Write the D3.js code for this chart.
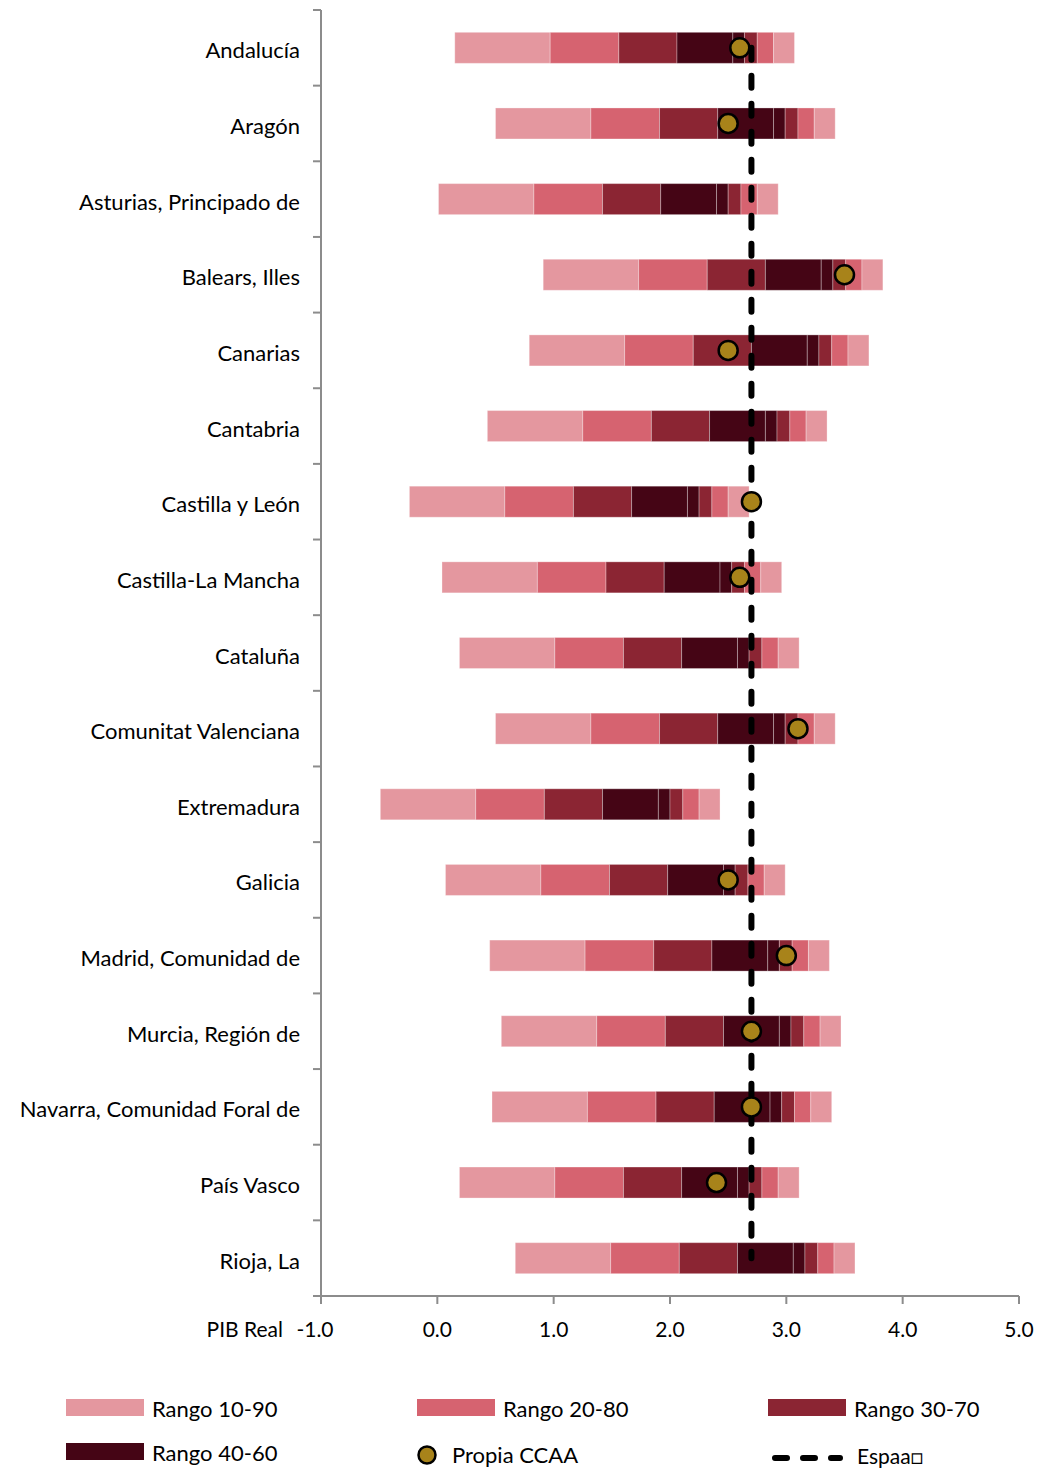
<!DOCTYPE html>
<html>
<head>
<meta charset="utf-8">
<script src="https://cdn.jsdelivr.net/npm/d3@7"></script>
<style>
  body { margin: 0; background: #fff; }
  svg text { font-family: Lato, "Open Sans", sans-serif; fill: #000; }
</style>
</head>
<body>
<svg id="chart" width="1040" height="1469"></svg>
<script>
const regions = ["Andalucía", "Aragón", "Asturias, Principado de", "Balears, Illes", "Canarias",
    "Cantabria", "Castilla y León", "Castilla-La Mancha", "Cataluña", "Comunitat Valenciana",
    "Extremadura", "Galicia", "Madrid, Comunidad de", "Murcia, Región de",
    "Navarra, Comunidad Foral de", "País Vasco", "Rioja, La"];

// percentiles of the PIB real forecast, one value per region
const p10 = [0.15, 0.50, 0.01, 0.91, 0.79, 0.43, -0.24, 0.04, 0.19, 0.50, -0.49, 0.07, 0.45, 0.55, 0.47, 0.19, 0.67];
const p20 = [0.97, 1.32, 0.83, 1.73, 1.61, 1.25, 0.58, 0.86, 1.01, 1.32, 0.33, 0.89, 1.27, 1.37, 1.29, 1.01, 1.49];
const p30 = [1.56, 1.91, 1.42, 2.32, 2.20, 1.84, 1.17, 1.45, 1.60, 1.91, 0.92, 1.48, 1.86, 1.96, 1.88, 1.60, 2.08];
const p40 = [2.06, 2.41, 1.92, 2.82, 2.70, 2.34, 1.67, 1.95, 2.10, 2.41, 1.42, 1.98, 2.36, 2.46, 2.38, 2.10, 2.58];
const p50 = [2.54, 2.89, 2.40, 3.30, 3.18, 2.82, 2.15, 2.43, 2.58, 2.89, 1.90, 2.46, 2.84, 2.94, 2.86, 2.58, 3.06];
const p60 = [2.64, 2.99, 2.50, 3.40, 3.28, 2.92, 2.25, 2.53, 2.68, 2.99, 2.00, 2.56, 2.94, 3.04, 2.96, 2.68, 3.16];
const p70 = [2.75, 3.10, 2.61, 3.51, 3.39, 3.03, 2.36, 2.64, 2.79, 3.10, 2.11, 2.67, 3.05, 3.15, 3.07, 2.79, 3.27];
const p80 = [2.89, 3.24, 2.75, 3.65, 3.53, 3.17, 2.50, 2.78, 2.93, 3.24, 2.25, 2.81, 3.19, 3.29, 3.21, 2.93, 3.41];
const p90 = [3.07, 3.42, 2.93, 3.83, 3.71, 3.35, 2.68, 2.96, 3.11, 3.42, 2.43, 2.99, 3.37, 3.47, 3.39, 3.11, 3.59];

// own forecast of each region (null = not shown)
const propia = [2.6, 2.5, null, 3.5, 2.5, null, 2.7, 2.6, null, 3.1, null, 2.5, 3.0, 2.7, 2.7, 2.4, null];
const espana = 2.7;

const xTicks = [-1, 0, 1, 2, 3, 4, 5];

const colLight = "#e4979f", colMed = "#d66370", colDark = "#8b2533", colDarkest = "#450515";
const gold = "#a8831a";
const axisGrey = "#8c8c8c";

const svg = d3.select("#chart");

const x = d3.scaleLinear().domain([-1, 5]).range([321, 1019]);
const y = d3.scaleBand().domain(regions).range([10, 1296]).paddingInner(0.59).paddingOuter(0.295);

// segments p10->p20 ... p80->p90
const bounds = [p10, p20, p30, p40, p50, p60, p70, p80, p90];
const segColors = [colLight, colMed, colDark, colDarkest, colDarkest, colDark, colMed, colLight];

const segs = [];
regions.forEach((r, i) => {
    for (let k = 0; k < 8; k++) {
        segs.push({region: r, x0: bounds[k][i], x1: bounds[k + 1][i], color: segColors[k]});
    }
});

svg.append("g").selectAll("rect")
    .data(segs)
    .enter()
    .append("rect")
    .attr("x", d => x(d.x0))
    .attr("y", d => y(d.region))
    .attr("width", d => x(d.x1) - x(d.x0))
    .attr("height", y.bandwidth())
    .attr("fill", d => d.color)
    .attr("stroke", "#ffffff")
    .attr("stroke-opacity", 0.3)
    .attr("stroke-width", 1);

// España dashed line, from first to last row
svg.append("line")
    .attr("x1", x(espana))
    .attr("x2", x(espana))
    .attr("y1", y(regions[0]) + y.bandwidth() / 2)
    .attr("y2", y(regions[regions.length - 1]) + y.bandwidth() / 2)
    .attr("stroke", "#000")
    .attr("stroke-width", 6)
    .attr("stroke-dasharray", "12,16")
    .attr("stroke-linecap", "round");

// own region dots
svg.append("g").selectAll("circle")
    .data(regions.map((r, i) => ({region: r, v: propia[i]})).filter(d => d.v !== null))
    .enter()
    .append("circle")
    .attr("cx", d => x(d.v))
    .attr("cy", d => y(d.region) + y.bandwidth() / 2)
    .attr("r", 9.5)
    .attr("fill", gold)
    .attr("stroke", "#000")
    .attr("stroke-width", 2.5);

// y axis
const step = y.step();
const yTop = y.range()[0], yBot = y.range()[1];
svg.append("line")
    .attr("x1", x(-1)).attr("x2", x(-1))
    .attr("y1", yTop).attr("y2", yBot + 1)
    .attr("stroke", axisGrey).attr("stroke-width", 2);
svg.append("g").selectAll("line")
    .data(d3.range(regions.length + 1))
    .enter()
    .append("line")
    .attr("x1", x(-1) - 8).attr("x2", x(-1))
    .attr("y1", i => yTop + i * step).attr("y2", i => yTop + i * step)
    .attr("stroke", axisGrey).attr("stroke-width", 2);

svg.append("g").selectAll("text")
    .data(regions)
    .enter()
    .append("text")
    .attr("x", 300)
    .attr("y", d => y(d) + y.bandwidth() / 2 + 2)
    .attr("text-anchor", "end")
    .attr("dominant-baseline", "central")
    .attr("font-size", 22)
    .text(d => d);

// x axis
svg.append("line")
    .attr("x1", x(-1)).attr("x2", x(5))
    .attr("y1", yBot).attr("y2", yBot)
    .attr("stroke", axisGrey).attr("stroke-width", 2);
svg.append("g").selectAll("line")
    .data(xTicks)
    .enter()
    .append("line")
    .attr("x1", d => x(d)).attr("x2", d => x(d))
    .attr("y1", yBot).attr("y2", yBot + 8)
    .attr("stroke", axisGrey).attr("stroke-width", 2);
const fmt = d3.format(".1f");
svg.append("g").selectAll("text")
    .data(xTicks)
    .enter()
    .append("text")
    .attr("x", d => x(d) + (d < 0 ? -6 : 0))
    .attr("y", 1337)
    .attr("text-anchor", "middle")
    .attr("font-size", 21)
    .text(d => fmt(d).replace("\u2212", "-"));
svg.append("text")
    .attr("x", 283)
    .attr("y", 1337)
    .attr("text-anchor", "end")
    .attr("font-size", 21)
    .text("PIB Real");

// legend
const legendRects = [
    {label: "Rango 10-90", color: colLight, lx: 66, ly: 1399},
    {label: "Rango 20-80", color: colMed, lx: 417, ly: 1399},
    {label: "Rango 30-70", color: colDark, lx: 768, ly: 1399},
    {label: "Rango 40-60", color: colDarkest, lx: 66, ly: 1443}
];
const lg = svg.append("g");
legendRects.forEach(d => {
    lg.append("rect")
        .attr("x", d.lx).attr("y", d.ly)
        .attr("width", 78).attr("height", 17)
        .attr("fill", d.color);
    lg.append("text")
        .attr("x", d.lx + 86).attr("y", d.ly + 9)
        .attr("dominant-baseline", "central")
        .attr("font-size", 22)
        .text(d.label);
});
lg.append("circle")
    .attr("cx", 427).attr("cy", 1455).attr("r", 8.5)
    .attr("fill", gold).attr("stroke", "#000").attr("stroke-width", 2.5);
lg.append("text")
    .attr("x", 452).attr("y", 1454)
    .attr("dominant-baseline", "central")
    .attr("font-size", 22)
    .text("Propia CCAA");
lg.append("line")
    .attr("x1", 775).attr("x2", 840)
    .attr("y1", 1458).attr("y2", 1458)
    .attr("stroke", "#000").attr("stroke-width", 6)
    .attr("stroke-dasharray", "12,16")
    .attr("stroke-linecap", "round");
lg.append("text")
    .attr("x", 857).attr("y", 1455)
    .attr("dominant-baseline", "central")
    .attr("font-size", 21)
    .text("Espaa\u25A1");
</script>
</body>
</html>
